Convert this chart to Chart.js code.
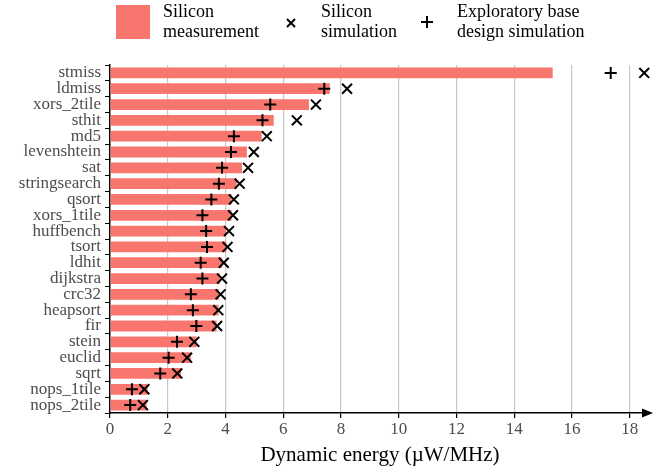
<!DOCTYPE html>
<html>
<head>
<meta charset="utf-8">
<script src="https://cdn.jsdelivr.net/npm/chart.js@4.4.1/dist/chart.umd.min.js"></script>
<style>
  body { margin: 0; background: #fff; }
  #wrap { position: relative; width: 665px; height: 468px; }
  #chartEnergy { position: absolute; left: 0; top: 0; }
  .legend-item { position: absolute; font-family: 'Liberation Serif', serif; font-size: 18px; line-height: 20px; color: #000; }
  .legend-key { position: absolute; }
</style>
</head>
<body>
<div id="wrap">
  <canvas id="chartEnergy" width="665" height="468"></canvas>
  <!-- leyenda en HTML para poder partir las etiquetas en dos lineas -->
  <div class="legend-key" style="left:116px; top:5px; width:34px; height:34px; background:#F8766D;"></div>
  <div class="legend-item" style="left:163px; top:1px;">Silicon<br>measurement</div>
  <svg class="legend-key" style="left:286px; top:18px;" width="10" height="10">
    <line x1="1" y1="1" x2="9" y2="9" stroke="#000" stroke-width="2"/>
    <line x1="9" y1="1" x2="1" y2="9" stroke="#000" stroke-width="2"/>
  </svg>
  <div class="legend-item" style="left:321px; top:1px;">Silicon<br>simulation</div>
  <svg class="legend-key" style="left:421px; top:16px;" width="12" height="12">
    <line x1="6" y1="0" x2="6" y2="12" stroke="#000" stroke-width="2"/>
    <line x1="0" y1="6" x2="12" y2="6" stroke="#000" stroke-width="2"/>
  </svg>
  <div class="legend-item" style="left:457px; top:1px;">Exploratory base<br>design simulation</div>
</div>
<script>
// Benchmarks (de arriba hacia abajo)
const benchmarks = ['stmiss', 'ldmiss', 'xors_2tile', 'sthit', 'md5', 'levenshtein', 'sat',
  'stringsearch', 'qsort', 'xors_1tile', 'huffbench', 'tsort', 'ldhit', 'dijkstra', 'crc32',
  'heapsort', 'fir', 'stein', 'euclid', 'sqrt', 'nops_1tile', 'nops_2tile'];

// Energia dinamica (uW/MHz)
const siliconMeasurement = [15.33, 7.61, 6.89, 5.67, 5.25, 4.74, 4.57, 4.39, 4.21, 4.21, 4.02,
  4.03, 3.88, 3.81, 3.77, 3.76, 3.69, 3.00, 2.80, 2.46, 1.30, 1.27];
const siliconSimulation = [18.5, 8.21, 7.13, 6.47, 5.43, 4.98, 4.78, 4.49, 4.29, 4.26, 4.12,
  4.07, 3.94, 3.88, 3.83, 3.75, 3.71, 2.92, 2.67, 2.33, 1.19, 1.14];
const exploratorySimulation = [17.34, 7.42, 5.55, 5.28, 4.29, 4.19, 3.88, 3.77, 3.51, 3.20, 3.33,
  3.36, 3.14, 3.20, 2.80, 2.87, 2.99, 2.32, 2.03, 1.74, 0.76, 0.70];

// Ticks del eje x
const energyTicks = [0, 2, 4, 6, 8, 10, 12, 14, 16, 18];
const axisMax = 18.7;

const serif = "'Liberation Serif', 'Times New Roman', serif";

// Flecha al final del eje x
const axisArrow = {
  id: 'axisArrow',
  afterDraw(chart) {
    const { ctx, chartArea } = chart;
    const y = chart.scales.x.top;
    ctx.save();
    ctx.fillStyle = '#000';
    ctx.beginPath();
    ctx.moveTo(chartArea.right + 3, y);
    ctx.lineTo(chartArea.right - 8, y - 4.5);
    ctx.lineTo(chartArea.right - 8, y + 4.5);
    ctx.closePath();
    ctx.fill();
    ctx.restore();
  }
};

const ctx = document.getElementById('chartEnergy').getContext('2d');
const chart = new Chart(ctx, {
  type: 'bar',
  data: {
    labels: benchmarks,
    datasets: [{
      type: 'line',
      label: 'Silicon simulation',
      data: siliconSimulation,
      indexAxis: 'y',
      showLine: false,
      pointStyle: 'crossRot',
      pointRadius: 7,
      pointBorderWidth: 2,
      pointBorderColor: '#000',
      borderColor: '#000',
      clip: false,
      order: 0
    }, {
      type: 'line',
      label: 'Exploratory base design simulation',
      data: exploratorySimulation,
      indexAxis: 'y',
      showLine: false,
      pointStyle: 'cross',
      pointRadius: 6,
      pointBorderWidth: 2,
      pointBorderColor: '#000',
      borderColor: '#000',
      clip: false,
      order: 0
    }, {
      label: 'Silicon measurement',
      data: siliconMeasurement,
      backgroundColor: '#F8766D',
      borderWidth: 0,
      barPercentage: 0.68,
      categoryPercentage: 1,
      order: 1
    }]
  },
  options: {
    indexAxis: 'y',
    responsive: false,
    animation: false,
    layout: { padding: { top: 65, right: 15, left: 0, bottom: 0 } },
    plugins: {
      legend: { display: false },
      tooltip: { enabled: false }
    },
    scales: {
      x: {
        type: 'linear',
        min: 0,
        max: axisMax,
        afterBuildTicks: (scale) => {
          scale.ticks = energyTicks.map(v => ({ value: v }));
        },
        afterFit: (scale) => { scale.height = 55; },
        ticks: {
          color: '#4d4d4d',
          font: { family: serif, size: 17 },
          padding: 1,
          maxRotation: 0
        },
        grid: {
          color: (c) => c.tick && c.tick.value === 0 ? 'rgba(0,0,0,0)' : '#c8c8c8',
          lineWidth: 1.2,
          tickColor: '#000',
          tickLength: 5
        },
        border: { display: true, color: '#000', width: 1.5 },
        title: {
          display: true,
          text: 'Dynamic energy (µW/MHz)',
          color: '#000',
          font: { family: serif, size: 21 },
          padding: { top: 0, bottom: 0 }
        }
      },
      y: {
        type: 'category',
        offset: true,
        afterFit: (scale) => { scale.width = 110; },
        ticks: {
          color: '#4d4d4d',
          font: { family: serif, size: 17 },
          padding: 4,
          autoSkip: false
        },
        grid: {
          drawOnChartArea: false,
          drawTicks: true,
          tickLength: 5,
          tickColor: '#000'
        },
        border: { display: true, color: '#000', width: 1.5 }
      }
    }
  },
  plugins: [axisArrow]
});
</script>
</body>
</html>
